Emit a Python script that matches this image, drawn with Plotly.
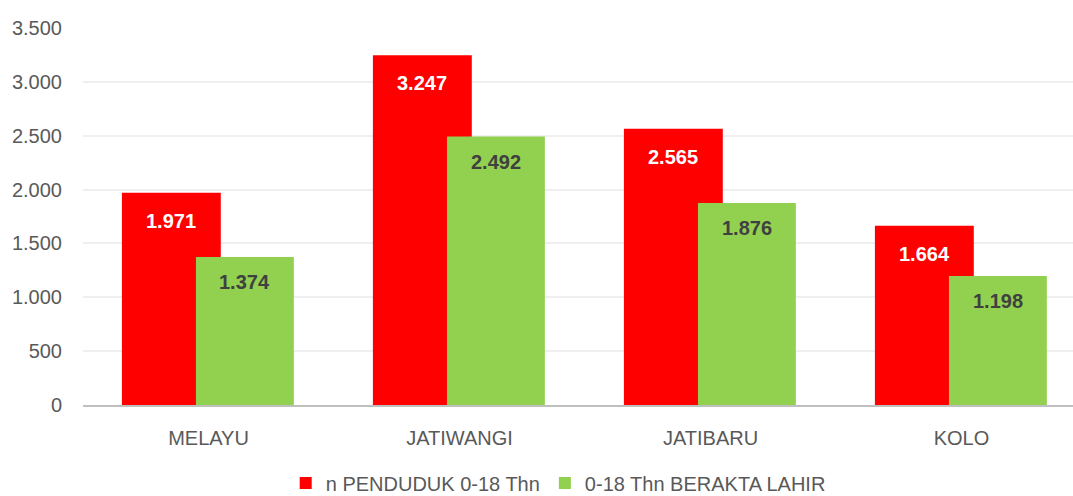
import plotly.graph_objects as go

# Data
categories = ["MELAYU", "JATIWANGI", "JATIBARU", "KOLO"]
penduduk = [1971, 3247, 2565, 1664]
berakta = [1374, 2492, 1876, 1198]
series_names = ["n PENDUDUK 0-18 Thn", "0-18 Thn BERAKTA LAHIR"]
y_ticks = [0, 500, 1000, 1500, 2000, 2500, 3000, 3500]

FONT = "Liberation Sans, Arial, sans-serif"
RED = "#FF0000"
GREEN = "#92D050"

def fmt(v):
    return f"{v:,}".replace(",", ".")

x_pos = list(range(len(categories)))

# bar geometry in category units
W_RED, OFF_RED = 0.394, -0.345
W_GRN, OFF_GRN = 0.39, -0.05

fig = go.Figure()
fig.add_trace(go.Bar(
    x=x_pos, y=penduduk, name=series_names[0],
    marker=dict(color=RED, line=dict(width=0)),
    width=W_RED, offset=OFF_RED,
))
fig.add_trace(go.Bar(
    x=x_pos, y=berakta, name=series_names[1],
    marker=dict(color=GREEN, line=dict(width=0)),
    width=W_GRN, offset=OFF_GRN,
))

# value labels just inside the top of each bar
annotations = []
for i, v in enumerate(penduduk):
    annotations.append(dict(
        x=i + OFF_RED + W_RED / 2, y=v, xref="x", yref="y",
        text=f"<b>{fmt(v)}</b>", showarrow=False, yanchor="middle", yshift=-28,
        font=dict(family=FONT, size=20, color="white"),
    ))
for i, v in enumerate(berakta):
    annotations.append(dict(
        x=i + OFF_GRN + W_GRN / 2, y=v, xref="x", yref="y",
        text=f"<b>{fmt(v)}</b>", showarrow=False, yanchor="middle", yshift=-25,
        font=dict(family=FONT, size=20, color="#404040"),
    ))

fig.update_layout(
    width=1073, height=496,
    margin=dict(l=83, r=0, t=28, b=91, autoexpand=False),
    paper_bgcolor="white", plot_bgcolor="white",
    barmode="overlay",
    font=dict(family=FONT, size=20, color="#595959"),
    showlegend=True,
    legend=dict(
        orientation="h", x=0.48, xanchor="center", y=-0.2069, yanchor="middle",
        font=dict(family=FONT, size=20, color="#595959"),
        itemwidth=30, tracegroupgap=0,
    ),
    annotations=annotations,
)
fig.update_xaxes(
    range=[-0.5, -0.5 + 990 / 251],
    tickmode="array", tickvals=x_pos, ticktext=categories,
    showline=True, linecolor="#BFBFBF", linewidth=2,
    showgrid=False, zeroline=False, ticks="",
    ticklabelstandoff=14, automargin=False,
    tickfont=dict(family=FONT, size=20, color="#595959"),
)
fig.update_yaxes(
    range=[0, 3500],
    tickmode="array", tickvals=y_ticks, ticktext=[fmt(t) for t in y_ticks],
    showgrid=True, gridcolor="#EFEFEF", gridwidth=1.5,
    zeroline=False, showline=False, ticks="",
    ticklabelstandoff=20, automargin=False,
    tickfont=dict(family=FONT, size=20, color="#595959"),
)

fig.write_html("out.html")
